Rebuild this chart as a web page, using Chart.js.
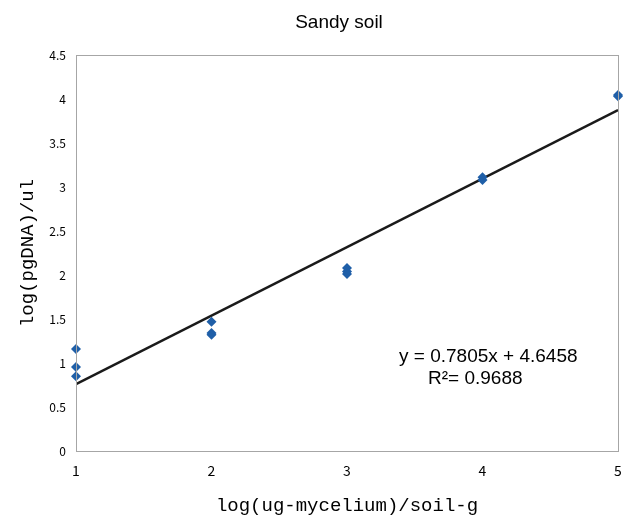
<!DOCTYPE html>
<html>
<head>
<meta charset="utf-8">
<script src="https://cdn.jsdelivr.net/npm/chart.js@4/dist/chart.umd.min.js"></script>
<style>
  html, body { margin: 0; padding: 0; background: #fff; }
  #wrap { width: 624px; height: 515px; }
</style>
</head>
<body>
<div id="wrap"><canvas id="c" width="624" height="515"></canvas></div>
<script>
// measured points, log(ug-mycelium)/soil-g vs log(pgDNA)/ul
const xValues = [1, 1, 1, 2, 2, 2, 3, 3, 3, 4, 4, 5, 5]
const yValues = [1.16, 0.955, 0.85, 1.47, 1.34, 1.32, 2.08, 2.04, 2.01, 3.11, 3.08, 4.045, 4.03]

// fitted line end points
const trendX = [1, 5]
const trendY = [0.76, 3.875]

const yTicks = [0, 0.5, 1, 1.5, 2, 2.5, 3, 3.5, 4, 4.5]
const xTicks = [1, 2, 3, 4, 5]

const chartTitle = 'Sandy soil'
const eqLine1 = 'y = 0.7805x + 4.6458'
const eqLine2 = 'R²= 0.9688'

const tickFamily = '"Noto Sans CJK JP", "Liberation Sans", sans-serif'
const titleFontAxis = { family: '"Liberation Mono", "DejaVu Sans Mono", monospace', size: 19 }

// frame round the plot area, title and regression text
const framePlugin = {
   id: 'frame',
   afterDraw(chart) {
      const { ctx, chartArea: a } = chart
      ctx.save()
      ctx.strokeStyle = '#a6a6a6'
      ctx.lineWidth = 1
      ctx.strokeRect(Math.round(a.left) + 0.5, Math.round(a.top) + 0.5,
         Math.round(a.right - a.left), Math.round(a.bottom - a.top))

      ctx.fillStyle = '#000'
      ctx.textBaseline = 'middle'
      ctx.textAlign = 'center'
      ctx.font = '19px "Liberation Sans", Arial, sans-serif'
      ctx.fillText(chartTitle, 339, 23)

      ctx.textAlign = 'left'
      ctx.fillText(eqLine1, 399, 357)
      ctx.fillText(eqLine2, 428, 379)
      ctx.restore()
   }
}

new Chart(document.getElementById('c'), {
   type: 'scatter',
   data: {
      datasets: [
         {
            label: 'trend',
            type: 'line',
            data: trendX.map((x, i) => ({ x: x, y: trendY[i] })),
            borderColor: '#1a1a1a',
            borderWidth: 2.5,
            pointRadius: 0,
            fill: false,
            order: 2
         },
         {
            label: 'data',
            data: xValues.map((x, i) => ({ x: x, y: yValues[i] })),
            pointStyle: 'rectRot',
            pointRadius: 5,
            backgroundColor: '#1f5fa8',
            borderColor: '#1f5fa8',
            borderWidth: 0,
            clip: false,
            order: 1
         }
      ]
   },
   options: {
      responsive: false,
      animation: false,
      layout: { padding: { left: 8, right: 6, top: 55, bottom: 0 } },
      plugins: {
         legend: { display: false },
         tooltip: { enabled: false },
         title: { display: false }
      },
      scales: {
         x: {
            type: 'linear',
            min: 1,
            max: 5,
            afterBuildTicks(scale) { scale.ticks = xTicks.map(v => ({ value: v })) },
            afterFit(scale) {
               scale.height = 64
               scale.paddingLeft = 0
               scale.paddingRight = 0
            },
            grid: { display: false },
            border: { display: true, color: '#a6a6a6' },
            ticks: { color: '#000', font: { family: tickFamily, size: 14 }, padding: 3 },
            title: {
               display: true,
               text: 'log(ug-mycelium)/soil-g',
               color: '#000',
               font: Object.assign({ lineHeight: 1 }, titleFontAxis),
               padding: { top: 0, bottom: 0 }
            }
         },
         y: {
            type: 'linear',
            min: 0,
            max: 4.5,
            afterBuildTicks(scale) { scale.ticks = yTicks.map(v => ({ value: v })) },
            afterFit(scale) {
               scale.width = 68
               scale.paddingTop = 0
               scale.paddingBottom = 0
            },
            grid: { display: false },
            border: { display: true, color: '#a6a6a6' },
            ticks: {
               color: '#000',
               font: { family: tickFamily, size: 12 },
               padding: 2,
               callback: (v) => String(v)
            },
            title: {
               display: true,
               text: 'log(pgDNA)/ul',
               color: '#000',
               font: titleFontAxis,
               padding: { top: 9, bottom: 0 }
            }
         }
      }
   },
   plugins: [framePlugin]
})
</script>
</body>
</html>
